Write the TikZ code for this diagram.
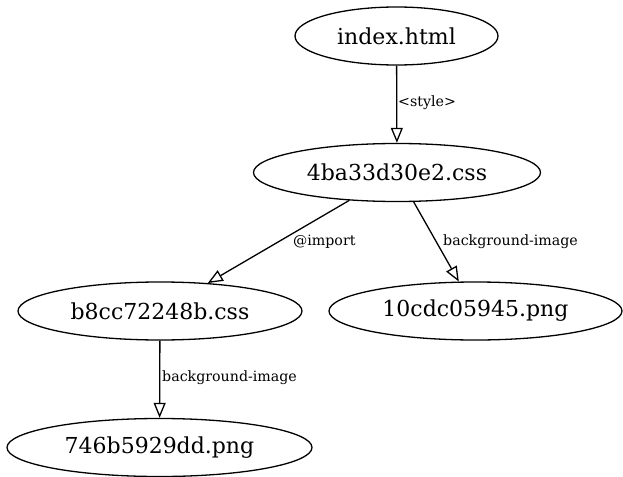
\documentclass[tikz,border=0pt]{standalone}
\usepackage{fontspec}
\setmainfont{DejaVu Serif}
\usetikzlibrary{shapes.geometric,arrows.meta}
\begin{document}
\begin{tikzpicture}[x=1pt,y=1pt,yscale=-1,
  file/.style={draw,ellipse,line width=1.3pt,minimum height=58pt,inner sep=0pt,font=\fontsize{22}{26}\selectfont},
  dep/.style={line width=1.3pt,-{Triangle[open,length=15pt,width=12pt]}},
  lbl/.style={anchor=west,inner sep=0pt,font=\fontsize{14.2}{17}\selectfont}]
\useasboundingbox (0,0) rectangle (623,476);

% Text Node
\draw (396.5,36) node [file,minimum width=203pt] (index) {index.html};
% Text Node
\draw (397,172.5) node [file,minimum width=287pt] (css) {4ba33d30e2.css};
% Text Node
\draw (160,311) node [file,minimum width=284pt] (importcss) {b8cc72248b.css};
% Text Node
\draw (475.5,311) node [file,minimum width=293pt] (bgone) {10cdc05945.png};
% Text Node
\draw (159.5,447.5) node [file,minimum width=305pt] (bgtwo) {746b5929dd.png};

%Straight Lines
\draw [dep] (index) -- (css);
\draw [dep] (css) -- (importcss);
\draw [dep] (css) -- (bgone);
\draw [dep] (importcss) -- (bgtwo);

% Text Node
\draw (398,103) node [lbl] {<style>};
% Text Node
\draw (293,242) node [lbl] {@import};
% Text Node
\draw (443,242) node [lbl] {background-image};
% Text Node
\draw (162,378) node [lbl] {background-image};

\end{tikzpicture}
\end{document}
